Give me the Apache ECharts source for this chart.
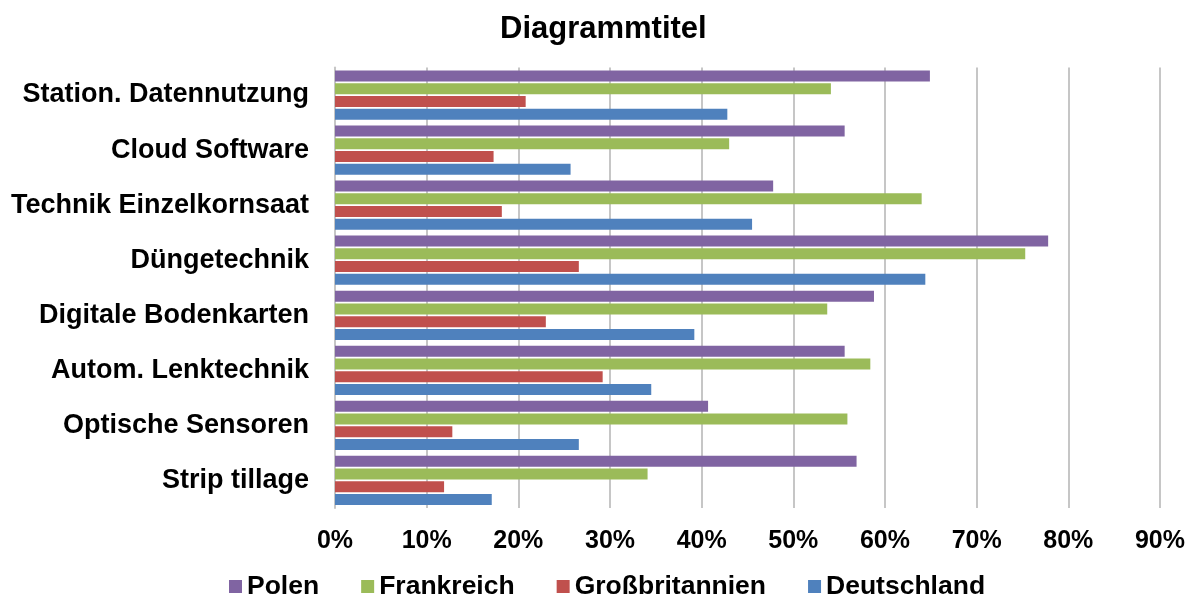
<!DOCTYPE html>
<html>
<head>
<meta charset="utf-8">
<script src="https://cdn.jsdelivr.net/npm/echarts@6/dist/echarts.min.js"></script>
<style>
  html, body { margin: 0; padding: 0; background: #fff; }
  #chart { width: 1188px; height: 597px; }
</style>
</head>
<body>
<div id="chart"></div>
<script>
// Categories, listed from the bottom of the axis to the top
const categories = [
  'Strip tillage',
  'Optische Sensoren',
  'Autom. Lenktechnik',
  'Digitale Bodenkarten',
  'Düngetechnik',
  'Technik Einzelkornsaat',
  'Cloud Software',
  'Station. Datennutzung'
];

// Shares in percent, one value per category (same order as above)
const polen           = [56.9, 40.7, 55.6, 58.8, 77.8, 47.8, 55.6, 64.9];
const frankreich      = [34.1, 55.9, 58.4, 53.7, 75.3, 64.0, 43.0, 54.1];
const grossbritannien = [11.9, 12.8, 29.2, 23.0, 26.6, 18.2, 17.3, 20.8];
const deutschland     = [17.1, 26.6, 34.5, 39.2, 64.4, 45.5, 25.7, 42.8];

const legendOrder = ['Polen', 'Frankreich', 'Großbritannien', 'Deutschland'];

const FONT = '"Liberation Sans", Arial, sans-serif';

function barSeries(name, data, color) {
  return {
    name: name,
    type: 'bar',
    data: data,
    barWidth: 11,
    barGap: '16%',
    itemStyle: { color: color },
    emphasis: { disabled: true }
  };
}

const chart = echarts.init(document.getElementById('chart'), null, { renderer: 'canvas' });
chart.setOption({
  animation: false,
  backgroundColor: '#ffffff',
  title: {
    text: 'Diagrammtitel',
    left: 495,
    top: 9,
    textStyle: { fontFamily: FONT, fontWeight: 'bold', fontSize: 31, color: '#000' }
  },
  legend: {
    data: legendOrder,
    top: 568,
    left: 224,
    itemWidth: 13,
    itemHeight: 13,
    itemGap: 42,
    icon: 'rect',
    textStyle: { fontFamily: FONT, fontWeight: 'bold', fontSize: 26.5, color: '#000', padding: [3, 0, 0, 0] }
  },
  grid: { left: 335, right: 28, top: 67.5, bottom: 89, containLabel: false },
  xAxis: {
    type: 'value',
    min: 0,
    max: 90,
    interval: 10,
    axisLine: { show: false },
    axisTick: { show: false },
    splitLine: { show: true, lineStyle: { color: '#c6c6c6', width: 2 } },
    axisLabel: {
      formatter: '{value}%',
      margin: 21,
      fontFamily: FONT,
      fontWeight: 'bold',
      fontSize: 25,
      color: '#000'
    }
  },
  yAxis: {
    type: 'category',
    data: categories,
    axisLine: { show: true, lineStyle: { color: '#c6c6c6', width: 2 } },
    axisTick: { show: false },
    axisLabel: {
      margin: 26,
      fontFamily: FONT,
      fontWeight: 'bold',
      fontSize: 27,
      color: '#000'
    }
  },
  // Series order runs top-down inside each category group
  series: [
    barSeries('Polen', polen, '#8064A2'),
    barSeries('Frankreich', frankreich, '#9BBB59'),
    barSeries('Großbritannien', grossbritannien, '#C0504D'),
    barSeries('Deutschland', deutschland, '#4F81BD')
  ]
});
</script>
</body>
</html>
